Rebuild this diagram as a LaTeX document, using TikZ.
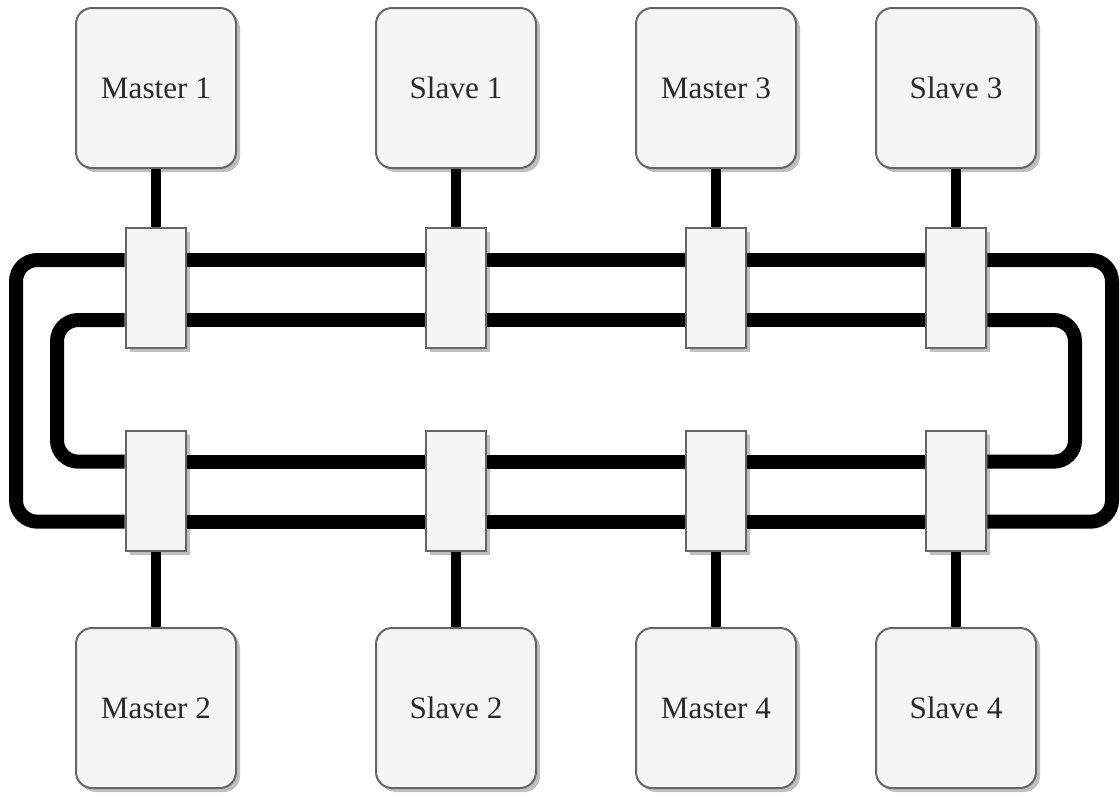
\documentclass[tikz,border=0pt]{standalone}
\usepackage{fontspec}
\setmainfont{Liberation Serif}
\usetikzlibrary{shadows,calc}
\definecolor{boxfill}{HTML}{F5F5F5}
\definecolor{boxline}{HTML}{666666}
\definecolor{shade}{HTML}{BFBFBF}
\definecolor{ink}{HTML}{2A2A2A}
\begin{document}
\begin{tikzpicture}[x=0.75pt,y=-0.75pt,
  device/.style={draw=boxline, line width=1.5pt, fill=boxfill, rounded corners=12pt,
    minimum width=120pt, minimum height=120pt, inner sep=0pt,
    font=\fontsize{23.4}{28}\selectfont, text=ink,
    drop shadow={shadow xshift=3pt, shadow yshift=-3pt, fill=shade, opacity=1}},
  coupler/.style={draw=boxline, line width=2.2pt, fill=boxfill,
    minimum width=45pt, minimum height=90pt, inner sep=0pt,
    drop shadow={shadow xshift=3pt, shadow yshift=-3pt, fill=shade, opacity=1}},
  stem/.style={line width=8pt, black},
  ring/.style={line width=10.5pt, black, rounded corners=16pt}]
\useasboundingbox (0,0) rectangle (1120,794);

% couplers on the two rings
\foreach \n/\x in {1/156,2/456,3/716,4/956}{
  \node[coupler] (t\n) at (\x,288) {};
  \node[coupler] (b\n) at (\x,491) {};
}

% end stations
\node[device] (m1) at (156,88) {Master 1};
\node[device] (s1) at (456,88) {Slave 1};
\node[device] (m3) at (716,88) {Master 3};
\node[device] (s3) at (956,88) {Slave 3};
\node[device] (m2) at (156,708) {Master 2};
\node[device] (s2) at (456,708) {Slave 2};
\node[device] (m4) at (716,708) {Master 4};
\node[device] (s4) at (956,708) {Slave 4};

% stations to couplers
\draw[stem] (m1.south) -- (t1.north);
\draw[stem] (s1.south) -- (t2.north);
\draw[stem] (m3.south) -- (t3.north);
\draw[stem] (s3.south) -- (t4.north);
\draw[stem] (m2.north) -- (b1.south);
\draw[stem] (s2.north) -- (b2.south);
\draw[stem] (m4.north) -- (b3.south);
\draw[stem] (s4.north) -- (b4.south);

% straight ring segments between neighbouring couplers
\foreach \a/\b in {1/2,2/3,3/4}{
  \draw[ring] ([yshift=21pt]t\a.east) -- ([yshift=21pt]t\b.west);
  \draw[ring] ([yshift=-24pt]t\a.east) -- ([yshift=-24pt]t\b.west);
  \draw[ring] ([yshift=22pt]b\a.east) -- ([yshift=22pt]b\b.west);
  \draw[ring] ([yshift=-23pt]b\a.east) -- ([yshift=-23pt]b\b.west);
}

% outer ring closing on both sides
\draw[ring] ([yshift=21pt]t1.west) -| (16,400) |- ([yshift=-23pt]b1.west);
\draw[ring] ([yshift=21pt]t4.east) -| (1112,400) |- ([yshift=-23pt]b4.east);
% inner ring closing on both sides
\draw[ring] ([yshift=-24pt]t1.west) -| (57,400) |- ([yshift=22pt]b1.west);
\draw[ring] ([yshift=-24pt]t4.east) -| (1075,400) |- ([yshift=22pt]b4.east);
\end{tikzpicture}
\end{document}
